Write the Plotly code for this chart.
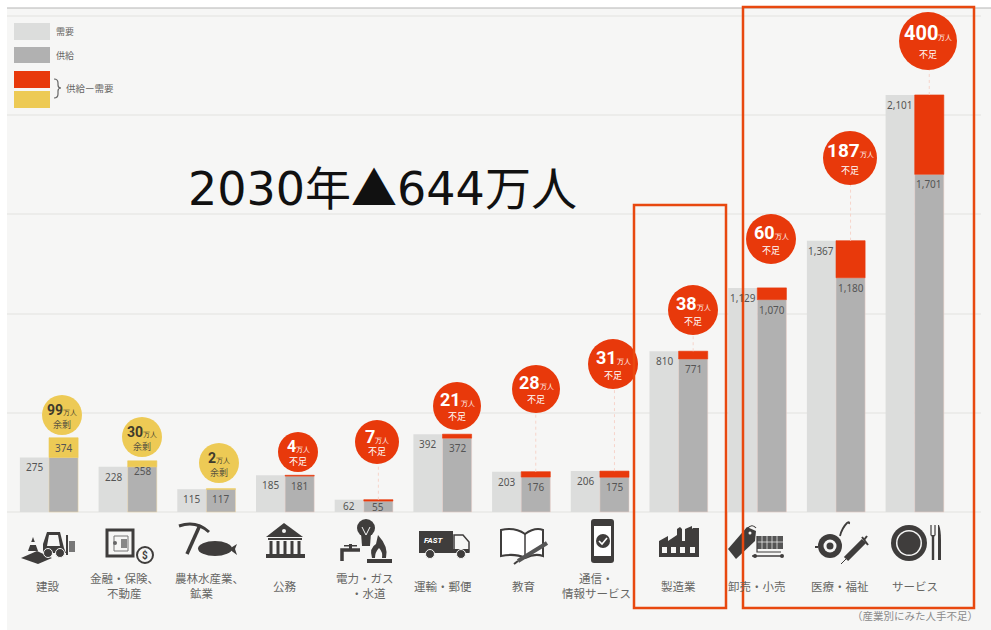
import plotly.graph_objects as go

# ---------- data ----------
categories = ["建設", "金融・保険、<br>不動産", "農林水産業、<br>鉱業", "公務", "電力・ガス<br>・水道", "運輸・郵便",
              "教育", "通信・<br>情報サービス", "製造業", "卸売・小売", "医療・福祉", "サービス"]
demand = [275, 228, 115, 185, 62, 392, 203, 206, 810, 1129, 1367, 2101]
supply = [374, 258, 117, 181, 55, 372, 176, 175, 771, 1070, 1180, 1701]
gap_labels = [99, 30, 2, 4, 7, 21, 28, 31, 38, 60, 187, 400]
gap_status = ["余剰", "余剰", "余剰", "不足", "不足", "不足", "不足", "不足", "不足", "不足", "不足", "不足"]

# ---------- layout constants (pixels) ----------
W, H = 991, 630
BASE_Y = 512.0
PX_PER_UNIT = 0.1985
CAT0 = 49.0
CAT_STEP = 78.7
PLOT_L, PLOT_R = 7, 981
bubble_x = [62, 142, 219, 298, 377, 457, 536, 613, 693, 771, 850, 928]
bubble_y = [415, 437, 463, 452, 442, 406, 389, 364, 310, 239, 158, 41]
bubble_r = [20, 20, 20, 20, 22, 24, 24, 25, 25, 25, 27, 29]
bubble_fs = [14, 14, 14, 16, 18, 18, 18, 18, 18, 18, 19, 20]
label_x = [48, 124, 209, 285, 365, 443, 523, 596, 678, 757, 840, 915]
dotted = [4, 6, 7, 8, 10, 11]
small_shift = {4: -6}

RED, YELLOW, LIGHT, GREY = "#e8390b", "#edca55", "#dcdddc", "#b1b1b1"
BG = "#f6f6f5"
INK = "#3f3d3c"
TXT = "#666664"
CJK = "Noto Sans CJK JP"

xrange_ = [(PLOT_L - CAT0) / CAT_STEP, (PLOT_R - CAT0) / CAT_STEP]
yrange_ = [-(H - BASE_Y) / PX_PER_UNIT, BASE_Y / PX_PER_UNIT]
BW = 0.37
OFF = 0.185
idx = list(range(len(categories)))
low = [min(d, s) for d, s in zip(demand, supply)]
diff = [abs(d - s) for d, s in zip(demand, supply)]
diffcol = [RED if s == "不足" else YELLOW for s in gap_status]
edge = ["#f0d8a8" if s == "余剰" else "#efd0c8" for s in gap_status]

fig = go.Figure()
fig.add_bar(x=[i - OFF for i in idx], y=demand, width=BW, marker=dict(color=LIGHT, line_width=0), hoverinfo="skip")
fig.add_bar(x=[i + OFF for i in idx], y=low, width=BW, marker=dict(color=GREY, line=dict(color=edge, width=0.5)), hoverinfo="skip")
fig.add_bar(x=[i + OFF for i in idx], y=diff, base=low, width=BW, marker=dict(color=diffcol, line_width=0.6, line_color=diffcol), hoverinfo="skip")
# invisible trace activates the pixel overlay axes
fig.add_scatter(x=[0, W], y=[0, H], xaxis="x2", yaxis="y2", mode="markers", marker=dict(opacity=0), hoverinfo="skip")

shapes = []
ann = []


def px_shape(**k):
    k.setdefault("xref", "x2")
    k.setdefault("yref", "y2")
    shapes.append(k)


def rect(x0, y0, x1, y1, fill=INK, line=None, lw=0, layer="above"):
    px_shape(type="rect", x0=x0, y0=y0, x1=x1, y1=y1, fillcolor=fill, line=dict(color=line or fill, width=lw), layer=layer)


def circ(cx, cy, r, fill=INK, line=None, lw=0, layer="above"):
    px_shape(type="circle", x0=cx - r, y0=cy - r, x1=cx + r, y1=cy + r, fillcolor=fill,
             line=dict(color=line or fill, width=lw), layer=layer)


def path(d, fill=INK, line=None, lw=0):
    px_shape(type="path", path=d, fillcolor=fill, line=dict(color=line or fill, width=lw), layer="above")


def stroke(d, color=INK, lw=2):
    px_shape(type="path", path=d, line=dict(color=color, width=lw), layer="above")


def text(x, y, s, size=11, color=TXT, anchor="center", family=CJK, xref="x2", yref="y2", yshift=0):
    ann.append(dict(x=x, y=y, text=s, xref=xref, yref=yref, showarrow=False, xanchor=anchor, yanchor="middle",
                    yshift=yshift, font=dict(size=size, color=color, family=family), align="center"))


# background + top rule
shapes.append(dict(type="rect", xref="paper", yref="paper", x0=7 / W, x1=1, y0=0, y1=1 - 8 / H,
                   fillcolor=BG, line_width=0, layer="below"))
stroke(f"M7,8 L{W},8", color="#b4b4b4", lw=1)

# legend
rect(14, 23, 50, 40, fill=LIGHT)
rect(14, 47, 50, 63, fill=GREY)
rect(14, 71, 50, 88, fill=RED)
rect(14, 91, 50, 108, fill=YELLOW)
text(54, 31, "需要", size=9, anchor="left")
text(54, 55, "供給", size=9, anchor="left")
text(64, 88, "供給ー需要", size=9.5, anchor="left")
stroke("M54,79 Q58,79 58,83 L58,85 Q58,88 61,88 Q58,88 58,91 L58,94 Q58,98 54,98", color="#666", lw=1.2)

# title
text(382, 185, "2030年<span style=\"font-family:'Noto Sans CJK JP'\">▲</span>644万人", size=46, color="#111111", family="DejaVu Sans, " + CJK)

# value labels on bars
for i in idx:
    sh = small_shift.get(i, -10)
    text(i - OFF, demand[i], f"{demand[i]:,}", size=10, color="#555", xref="x", yref="y", yshift=sh, family="Noto Sans")
    text(i + OFF, supply[i], f"{supply[i]:,}", size=10, color="#555", xref="x", yref="y", yshift=sh, family="Noto Sans")

# dotted connectors
for i in dotted:
    bx = i + OFF
    shapes.append(dict(type="line", xref="x", yref="y", x0=bx, x1=bx, y0=demand[i],
                       y1=(BASE_Y - bubble_y[i]) / PX_PER_UNIT,
                       line=dict(color="#f6d4ca", width=1, dash="dot"), layer="above"))

# bubbles
for i in idx:
    cx, cy, r = bubble_x[i], bubble_y[i], bubble_r[i]
    surplus = gap_status[i] == "余剰"
    circ(cx, cy, r, fill=YELLOW if surplus else RED)
    col = "#3f3a2c" if surplus else "#ffffff"
    fs = bubble_fs[i]
    text(cx, cy - r * 0.26,
         f"<b>{gap_labels[i]}</b><span style='font-size:7px'>万人</span>",
         size=fs, color=col, family="Roboto")
    text(cx, cy + r * 0.45, gap_status[i], size=9, color=col if not surplus else "#5a5440")

# category labels
for i, c in enumerate(categories):
    if "<br>" in c:
        a, b = c.split("<br>")
        text(label_x[i], 578, a, size=11.5)
        text(label_x[i] - (7 if i == 2 else 0) + (3 if i == 4 else 0), 593, b, size=11.5)
    else:
        text(label_x[i], 586, c, size=11.5)
text(980, 615, "（産業別にみた人手不足）", size=10.5, color="#8a8a8a", anchor="right")

# --- icons (pixel space) ---
# 1 forklift
path("M21,558 L37,551 L52,558 L38,564 Z")
path("M33,537 L28,551 L38,551 Z")
rect(30, 542, 36, 545, fill=BG)
path("M43,553 L43,544 L47,532 L60,532 L64,548 L66,553 Z")
path("M49,535 L58,535 L60,546 L47,546 Z", fill=BG)
circ(48, 553, 4.5, line=BG, lw=1)
circ(60, 553, 4.5, line=BG, lw=1)
rect(66, 535, 68, 555)
rect(69, 541, 75, 552, fill="#777")
# 2 safe
px_shape(type="rect", x0=107, y0=530, x1=133, y1=556, line=dict(color=INK, width=3), fillcolor=BG, layer="above")
rect(114, 536, 128, 551, fill=BG, line="#777", lw=1)
rect(121, 539, 127, 548, fill="#888")
circ(115, 543, 2, fill="#666")
circ(145, 555, 8, fill=BG, line=INK, lw=2)
text(145, 555, "<b>$</b>", size=10, color=INK, family="Roboto")
# 3 pick + fish
stroke("M179,526 Q196,520 209,532", lw=3)
stroke("M200,525 L187,554", lw=3.5)
px_shape(type="circle", x0=198, y0=541, x1=232, y1=556, fillcolor=INK, line=dict(color=INK, width=0), layer="above")
path("M229,549 L237,544 L235,549 L237,555 Z")
# 4 bank
path("M284,523 L303,537 L266,537 Z")
circ(284, 531, 2, fill=BG)
rect(268, 538, 302, 540)
for cx_ in (271, 278, 285, 292, 299):
    rect(cx_ - 1.5, 541, cx_ + 1.5, 554)
rect(266, 554, 305, 558)
# 5 utilities
circ(366, 528, 9)
path("M361,533 L371,533 L370,546 L362,546 Z")
stroke("M362,527 L366,535 L370,527", color=BG, lw=1)
stroke("M342,561 L342,550 L360,550", lw=3.5)
rect(349, 544, 352, 549)
rect(344, 545, 357, 546.5)
path("M378,535 Q389,547 386,558 L372,558 Q369,548 376,544 Z")
path("M379,548 Q383,552 382,558 L375,558 Q375,552 379,548 Z", fill=BG)
rect(367, 559, 392, 563)
# 6 truck
path("M419,531 L453,531 L453,551 L419,551 Z")
text(434, 540, "<b><i>FAST</i></b>", size=8, color="#ffffff", family="Roboto")
path("M454,535 L463,535 L469,542 L469,552 L454,552 Z", fill=BG, line=INK, lw=1.5)
rect(419, 549, 469, 553)
circ(430, 554, 4.5, fill=INK, line=BG, lw=1)
circ(461, 554, 4.5, fill=INK, line=BG, lw=1)
# 7 book
px_shape(type="path", path="M501,530 Q515,527 525,534 Q535,527 543,530 L543,556 Q535,553 525,558 Q515,553 501,556 Z",
         fillcolor="#ffffff", line=dict(color=INK, width=2), layer="above")
stroke("M525,534 L525,558", lw=1.5)
stroke("M518,561 L547,543", color="#555", lw=4)
stroke("M514,564 L518,561", color=INK, lw=2)
# 8 phone
px_shape(type="path", path="M594,519 L611,519 Q614,519 614,522 L614,560 Q614,563 611,563 L594,563 Q591,563 591,560 L591,522 Q591,519 594,519 Z",
         fillcolor=INK, line=dict(color=INK, width=0), layer="above")
rect(594, 526, 611, 556, fill="#ffffff")
circ(603, 541, 7)
stroke("M599,541 L602,544 L607,538", color="#ffffff", lw=1.6)
# 9 factory
path("M659,557 L659,541 L668,536 L668,541 L677,535 L677,529 L680,527 L682,529 L682,541 L685,541 L685,529 L692,526 L692,529 L693,528 L699,528 L699,557 Z")
for wx in (662, 671, 680, 690):
    rect(wx, 547, wx + 5, 553, fill=BG)
# 10 tag + cart
path("M728,549 L747,527 L756,531 L755,541 L736,559 Z")
circ(750, 533, 1.5, fill=BG)
stroke("M747,529 Q752,523 756,528", lw=1.2)
rect(757, 536, 783, 549, fill="#555")
for gx in (762, 767, 772, 777):
    stroke(f"M{gx},536 L{gx},549", color=BG, lw=0.7)
stroke("M757,542 L783,542", color=BG, lw=0.7)
stroke("M757,536 L757,552 L781,552", lw=1.2)
stroke("M752,556 L783,556", lw=1.5)
circ(755, 556, 2)
circ(782, 556, 2)
# 11 tape + syringe
circ(830, 546, 12)
circ(830, 546, 6.5, fill=BG)
circ(830, 546, 3.5, fill=INK)
stroke("M815,547 L818,547 M840,536 Q842,528 847,523 Q850,521 849,524", lw=1.8)
stroke("M841,564 L848,557", lw=1)
stroke("M846,559 L864,541", lw=6)
stroke("M862,537 L868,545", lw=2)
stroke("M864,540 L867,536", lw=2)
# 12 plate + cutlery
circ(909, 543, 18)
circ(909, 543, 13, fill=BG)
circ(909, 543, 11.5, fill=INK)
stroke("M931,525 L931,535 Q933,538 935,535 L935,525", lw=1.2)
stroke("M933,535 L933,560", lw=2.4)
path("M939,525 Q941,530 941,540 L941,560 L938,560 L938,525 Z")

# callout frames
for (x0, y0, x1, y1) in [(634, 205, 726, 608), (743, 7, 974, 608)]:
    px_shape(type="rect", x0=x0, y0=y0, x1=x1, y1=y1, line=dict(color="#e8480f", width=2.5), layer="above")

fig.update_layout(
    width=W, height=H, autosize=False, showlegend=False, barmode="overlay",
    margin=dict(l=0, r=0, t=0, b=0), paper_bgcolor="#ffffff", plot_bgcolor="rgba(0,0,0,0)",
    shapes=shapes, annotations=ann,
    xaxis=dict(domain=[PLOT_L / W, PLOT_R / W], range=xrange_, visible=False, showgrid=False, fixedrange=True),
    yaxis=dict(domain=[0, 1], range=yrange_, tickvals=[0, 500, 1000, 1500, 2000, 2500], showticklabels=False,
               showgrid=True, gridcolor="#ececea", gridwidth=1.5, zeroline=False, showline=False, ticks="", fixedrange=True),
    xaxis2=dict(domain=[0, 1], range=[0, W], visible=False, anchor="y2", fixedrange=True),
    yaxis2=dict(domain=[0, 1], range=[H, 0], visible=False, anchor="x2", fixedrange=True),
)
fig.write_html("out.html", config={"displayModeBar": False},
               post_script="document.body.style.margin='0';document.documentElement.style.overflow='hidden';")
